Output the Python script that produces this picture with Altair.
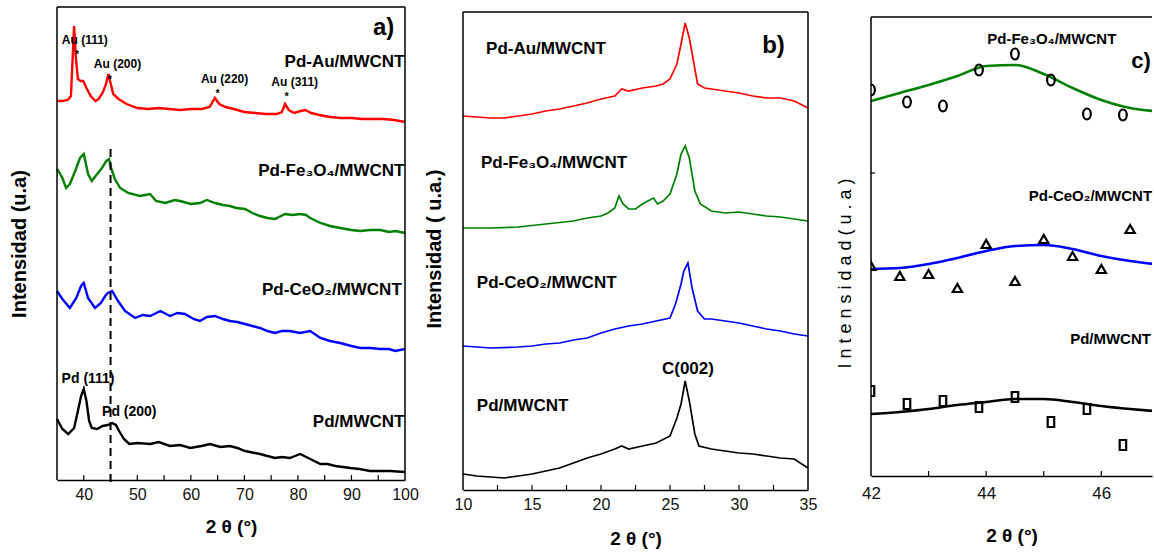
import altair as alt
import pandas as pd

FONT = "Liberation Sans, Arial, Helvetica, sans-serif"
NARROW = "Liberation Sans Narrow, Arial Narrow, Liberation Sans, sans-serif"

NAMES = ["Pd-Au/MWCNT", "Pd-Fe3O4/MWCNT", "Pd-CeO2/MWCNT", "Pd/MWCNT"]
COLORS = ["#ff0000", "#008000", "#0000ff", "#000000"]

# ---------------- panel a) : 2theta 35-100 ----------------
a_au_x = [35, 36, 37, 37.6, 37.9, 38.2, 38.5, 38.9, 39.4, 39.9, 40.5, 41.3, 42.2, 42.8, 43.5, 44.1, 44.6,
          45.0, 45.5, 46.5, 48, 50, 52, 54, 56, 58, 60, 62, 63.5, 64.5, 65.3, 66.5, 68, 70, 72, 74, 76,
          77.0, 77.6, 78.3, 79.3, 80.5, 81.4, 82.5, 84, 86, 88, 90, 92, 94, 96, 98, 100]
a_au_y = [379, 379, 380, 384, 419, 454, 424, 401, 399, 399, 392, 384, 379, 381, 387, 395, 406,
          397, 386, 381, 376, 372, 371, 372, 371, 370, 371, 371, 373, 382, 376, 373, 371, 368, 367, 366, 366,
          368, 376, 370, 367, 369, 370, 367, 365, 363, 362, 362, 361, 361, 361, 360, 358]

a_fe_x = [35, 35.5, 36, 36.7, 37.4, 38.4, 39.3, 40, 40.8, 41.5, 42.5, 43.4, 44.2, 44.7, 45.1, 45.8, 46.8,
          48.3, 50.5, 52.4, 53.5, 55.2, 57, 58, 60, 61.7, 63, 64.5, 66, 67.3, 68.5, 70.1, 71.5, 72.9, 74.3,
          75.7, 77.6, 79, 80.4, 81.5, 82.3, 84.2, 86, 87.9, 90, 91.6, 93.5, 95.4, 97, 98.2, 100]
a_fe_y = [311, 307, 302, 292, 296, 309, 322, 326, 306, 299, 306, 312, 319, 321, 312, 301, 292,
          287, 284, 286, 279, 277, 280, 279, 276, 277, 280, 277, 275, 274, 272, 271, 267, 264, 262,
          261, 266, 265, 266, 265, 262, 257, 254, 252, 250, 249, 250, 250, 248, 249, 247]

a_ce_x = [35, 36, 37.4, 38.6, 39.5, 40, 40.8, 42.1, 43.2, 44.0, 44.5, 45.3, 46.4, 47.7, 49.6, 51, 52.4,
          54.3, 56.1, 57.5, 58.9, 60.5, 61.7, 63, 64.5, 66, 67.3, 68.7, 70.1, 71.5, 72.9, 74.3, 75.7, 77,
          78.5, 80.4, 82.3, 84.2, 86, 87.9, 90, 91.6, 93.5, 95.4, 97, 98.2, 100]
a_ce_y = [189, 181, 172, 182, 194, 197, 182, 172, 177, 184, 187, 189, 179, 169, 162, 165, 164,
          169, 164, 167, 166, 161, 159, 163, 164, 161, 159, 158, 156, 154, 152, 149, 147, 149,
          149, 147, 149, 142, 139, 137, 134, 132, 132, 131, 131, 129, 131]

a_pd_x = [35, 36, 37.1, 38.2, 38.9, 39.5, 40, 40.5, 41.0, 41.5, 42.5, 43.5, 44.5, 45.3, 46.0, 46.6, 47.5,
          48.5, 50, 52.4, 54, 56.1, 58, 59.9, 62, 63.6, 65.5, 67.3, 68.7, 70.1, 72.9, 75.7, 77, 78.5,
          80.4, 82.3, 84.2, 85.5, 87, 89.8, 91.5, 93.5, 95.5, 97.2, 100]
a_pd_y = [61, 51, 46, 52, 69, 84, 91, 79, 59, 52, 51, 54, 55, 57, 55, 49, 41,
          36, 37, 36, 38, 34, 35, 32, 34, 36, 33, 34, 32, 29, 26, 22, 23, 22,
          26, 21, 16, 16, 14, 12, 11, 9, 9, 9, 8]

a_ticks = [40, 45, 50, 55, 60, 65, 70, 75, 80, 85, 90, 95]
a_labels = [40, 50, 60, 70, 80, 90, 100]

# sample names (right aligned), peak labels, markers
a_names_x = [99.9, 99.9, 99.4, 99.9]
a_names_y = [418, 309, 190, 58]
a_names_t = ["Pd-Au/MWCNT", "Pd-Fe₃O₄/MWCNT", "Pd-CeO₂/MWCNT", "Pd/MWCNT"]
a_peak_x = [40.2, 46.3, 66.3, 79.4]
a_peak_y = [440, 416, 401, 398]
a_peak_t = ["Au (111)", "Au (200)", "Au (220)", "Au (311)"]
a_star_x = [38.7, 44.9, 65.0, 77.9]
a_star_y = [425, 400, 386, 383]
a_pd_peak_x = [40.8, 48.5]
a_pd_peak_y = [101, 68]
a_pd_peak_t = ["Pd (111)", "Pd (200)"]

# ---------------- panel b) : 2theta 10-35 ----------------
b_au_x = [10, 11, 12, 13, 14, 15, 16, 17, 18, 19, 20, 21, 21.5, 22, 23, 24, 24.5, 25, 25.5, 25.8, 26.1,
          26.4, 26.7, 27.0, 27.5, 28, 29, 30, 31, 32, 33, 34, 35]
b_au_y = [374, 373, 372, 372, 374, 376, 379, 381, 384, 387, 391, 394, 401, 399, 402, 404, 406, 411, 426,
          446, 467, 452, 429, 406, 402, 401, 399, 397, 394, 392, 392, 389, 382]

b_fe_x = [10, 12, 14, 16, 18, 19, 20, 20.5, 21, 21.3, 21.6, 22, 22.5, 23, 23.4, 23.8, 24.1, 24.5, 25,
          25.5, 25.8, 26.1, 26.4, 26.8, 27.2, 28, 29, 30, 31, 32, 33, 34, 35]
b_fe_y = [262, 262, 263, 266, 269, 272, 274, 277, 282, 294, 286, 281, 281, 286, 289, 292, 286, 289, 296,
          316, 336, 344, 332, 299, 286, 279, 277, 278, 276, 274, 273, 271, 269]

b_ce_x = [10, 12, 14, 15, 16, 17, 18, 19, 20, 21, 22, 23, 24, 25, 25.4, 25.8, 26.0, 26.3, 26.6, 27.0,
          27.5, 28, 29, 30, 31, 32, 33, 34, 35]
b_ce_y = [144, 142, 143, 144, 146, 147, 150, 152, 157, 161, 164, 166, 169, 172, 186, 206, 219, 227, 202,
          179, 171, 171, 169, 167, 164, 161, 159, 156, 154]

b_pd_x = [10, 11, 12, 13, 14, 15, 16, 17, 18, 19, 20, 21, 21.5, 22, 23, 24, 25, 25.5, 25.8, 26.1, 26.4,
          26.8, 27.1, 28, 29, 30, 31, 32, 33, 34, 35]
b_pd_y = [16, 14, 13, 12, 14, 16, 19, 22, 27, 32, 36, 41, 44, 41, 44, 47, 54, 72, 86, 109, 89,
          56, 44, 41, 39, 37, 36, 34, 32, 31, 22]

b_ticks = [12.5, 15, 17.5, 20, 22.5, 25, 27.5, 30, 32.5]
b_labels = [10, 15, 20, 25, 30, 35]
b_names_x = [11.67, 11.3, 11.0, 11.0]
b_names_y = [441, 327, 207, 84]
b_names_t = ["Pd-Au/MWCNT", "Pd-Fe₃O₄/MWCNT", "Pd-CeO₂/MWCNT", "Pd/MWCNT"]

# ---------------- panel c) : 2theta 42-47 (zoom) ----------------
c_pts_x = [42, 42.625, 43.25, 43.875, 44.5, 45.125, 45.75, 46.375]
c_fe_pts = [386, 374, 370, 406, 422, 396, 362, 361]
c_pd_pts = [85, 72, 75, 69, 79, 54, 67, 31]
c_tri_x = [42, 42.5, 43, 43.5, 44, 44.5, 45, 45.5, 46, 46.5]
c_ce_pts = [210, 200, 202, 188, 232, 195, 237, 220, 207, 247]
c_fit_x = [42, 42.5, 43, 43.5, 44, 44.5, 45, 45.5, 46, 46.5, 46.9]
c_fe_fit = [375, 383, 391, 400, 410, 411, 402, 388, 376, 368, 365]
c_ce_fit = [207, 208, 212, 218, 225, 230, 231, 227, 220, 215, 212]
c_pd_fit = [62, 64, 67, 71, 74, 77, 77, 74, 70, 67, 65]
c_ticks = [43, 44, 45, 46]
c_labels = [42, 44, 46]
c_names_x = [45.14, 45.81, 46.16]
c_names_y = [437, 280, 137]
c_names_t = ["Pd-Fe₃O₄/MWCNT", "Pd-CeO₂/MWCNT", "Pd/MWCNT"]

ELLIPSE = "M0,-1A0.7,1 0 1,1 0,1A0.7,1 0 1,1 0,-1Z"
TALL_SQUARE = "M-0.65,-1H0.65V1H-0.65Z"

# ---------------- helpers ----------------
color_scale = alt.Scale(domain=NAMES, range=COLORS)


def lines_df(parts):
    frames = []
    for xs, ys, name in parts:
        frames.append(pd.DataFrame({"x": xs, "y": ys, "s": name}))
    return pd.concat(frames, ignore_index=True)


def frame_rules(W, H, off, right=True):
    base = alt.Chart(alt.Data(values=[{}]))
    out = [
        base.mark_rule(color="black", strokeWidth=1.5).encode(
            x=alt.value(0), x2=alt.value(W), y=alt.value(off)),
        base.mark_rule(color="black", strokeWidth=1.5).encode(
            x=alt.value(0), y=alt.value(off), y2=alt.value(H)),
    ]
    if right:
        out.append(base.mark_rule(color="black", strokeWidth=1.5).encode(
            x=alt.value(W), y=alt.value(off), y2=alt.value(H)))
    return out


def tick_rules(ticks, H):
    return alt.Chart(pd.DataFrame({"x": ticks})).mark_rule(color="black", strokeWidth=1.2).encode(
        x="x:Q", y=alt.value(H), y2=alt.value(H - 5))


def text_layer(xs, ys, ts, size, align="center", font=FONT, weight="bold"):
    return alt.Chart(pd.DataFrame({"x": xs, "y": ys, "t": ts})).mark_text(
        align=align, baseline="middle", font=font, fontSize=size, fontWeight=weight, color="black"
    ).encode(x="x:Q", y="y:Q", text="t:N")


def x_axis(values, font, lsize, lpad, tsize, tpad):
    return alt.Axis(values=values, format="d", ticks=False, grid=False, labelFlush=False,
                    labelFont=font, labelFontSize=lsize, labelColor="#111", labelPadding=lpad,
                    domainColor="black", domainWidth=1.5,
                    title="2 θ (°)", titleFont=font, titleFontSize=tsize, titleFontWeight="bold",
                    titleColor="black", titlePadding=tpad)


# ---------------- panel a ----------------
WA, HA = 348, 473
dfa = lines_df([(a_au_x, a_au_y, NAMES[0]), (a_fe_x, a_fe_y, NAMES[1]),
                (a_ce_x, a_ce_y, NAMES[2]), (a_pd_x, a_pd_y, NAMES[3])])
a_lines = alt.Chart(dfa).mark_line(strokeWidth=2.4).encode(
    x=alt.X("x:Q", scale=alt.Scale(domain=[35, 100], nice=False, zero=False),
            axis=x_axis(a_labels, FONT, 16, 6, 19, 15)),
    y=alt.Y("y:Q", scale=alt.Scale(domain=[0, HA], nice=False),
            axis=alt.Axis(labels=False, ticks=False, grid=False, domain=False,
                          title="Intensidad (u.a)", titleFont=FONT, titleFontSize=20,
                          titleFontWeight="bold", titleColor="black", titlePadding=28)),
    color=alt.Color("s:N", scale=color_scale, legend=None),
    detail="s:N",
)
a_dash = alt.Chart(pd.DataFrame({"x": [45], "y": [331], "y2": [-3]})).mark_rule(
    color="black", strokeWidth=2, strokeDash=[8, 5]).encode(x="x:Q", y="y:Q", y2="y2:Q")
panel_a = alt.layer(
    a_lines, a_dash, tick_rules(a_ticks, HA),
    text_layer(a_names_x, a_names_y, a_names_t, 17, align="right"),
    text_layer(a_peak_x, a_peak_y, a_peak_t, 12),
    text_layer(a_star_x, a_star_y, ["*"] * 4, 11),
    text_layer(a_pd_peak_x, a_pd_peak_y, a_pd_peak_t, 14),
    text_layer([96], [452], ["a)"], 24),
    *frame_rules(WA, HA, 0),
).properties(width=WA, height=HA)

# ---------------- panel b ----------------
WB, HB = 345, 483
dfb = lines_df([(b_au_x, b_au_y, NAMES[0]), (b_fe_x, b_fe_y, NAMES[1]),
                (b_ce_x, b_ce_y, NAMES[2]), (b_pd_x, b_pd_y, NAMES[3])])
b_lines = alt.Chart(dfb).mark_line(strokeWidth=1.7).encode(
    x=alt.X("x:Q", scale=alt.Scale(domain=[10, 35], nice=False, zero=False),
            axis=x_axis(b_labels, FONT, 16, 6, 19, 17)),
    y=alt.Y("y:Q", scale=alt.Scale(domain=[0, HB], nice=False),
            axis=alt.Axis(labels=False, ticks=False, grid=False, domain=False,
                          title="Intensidad ( u.a.)", titleFont=FONT, titleFontSize=20,
                          titleFontWeight="bold", titleColor="black", titlePadding=19)),
    color=alt.Color("s:N", scale=color_scale, legend=None),
    detail="s:N",
)
panel_b = alt.layer(
    b_lines, tick_rules(b_ticks, HB),
    text_layer(b_names_x, b_names_y, b_names_t, 17, align="left"),
    text_layer([26.3], [121], ["C(002)"], 17),
    text_layer([32.5], [444], ["b)"], 24),
    *frame_rules(WB, HB, 5),
).properties(width=WB, height=HB)

# ---------------- panel c ----------------
WC, HC = 281, 469
dfc = lines_df([(c_fit_x, c_fe_fit, NAMES[1]), (c_fit_x, c_ce_fit, NAMES[2]), (c_fit_x, c_pd_fit, NAMES[3])])
c_lines = alt.Chart(dfc).mark_line(strokeWidth=2.6, interpolate="monotone", clip=True).encode(
    x=alt.X("x:Q", scale=alt.Scale(domain=[42, 46.88], nice=False, zero=False),
            axis=x_axis(c_labels, NARROW, 17, 9, 19, 25)),
    y=alt.Y("y:Q", scale=alt.Scale(domain=[0, HC], nice=False),
            axis=alt.Axis(labels=False, ticks=False, grid=False, domain=False,
                          title="I n t e n s i d a d   ( u . a )", titleFont=NARROW, titleFontSize=18,
                          titleFontWeight="normal", titleColor="black", titleX=-17, titleY=266)),
    color=alt.Color("s:N", scale=color_scale, legend=None),
    detail="s:N",
)
c_circ = alt.Chart(pd.DataFrame({"x": c_pts_x, "y": c_fe_pts})).mark_point(
    shape=ELLIPSE, filled=False, color="black", opacity=1, size=121, strokeWidth=2.2, clip=True).encode(
    x="x:Q", y="y:Q")
c_tri = alt.Chart(pd.DataFrame({"x": c_tri_x, "y": c_ce_pts})).mark_point(
    shape="triangle-up", filled=False, color="black", opacity=1, size=85, strokeWidth=2.2, clip=True).encode(
    x="x:Q", y="y:Q")
c_sq = alt.Chart(pd.DataFrame({"x": c_pts_x, "y": c_pd_pts})).mark_point(
    shape=TALL_SQUARE, filled=False, color="black", opacity=1, size=100, strokeWidth=2.2, clip=True).encode(
    x="x:Q", y="y:Q")
c_ytick = alt.Chart(alt.Data(values=[{}])).mark_rule(color="black", strokeWidth=1.2).encode(
    x=alt.value(0), x2=alt.value(4), y=alt.value(166))
panel_c = alt.layer(
    c_lines, c_circ, c_tri, c_sq, tick_rules(c_ticks, HC), c_ytick,
    text_layer(c_names_x, c_names_y, c_names_t, 15, font=NARROW),
    text_layer([46.69], [415], ["c)"], 22, font=NARROW),
    *frame_rules(WC, HC, 10, right=False),
).properties(width=WC, height=HC)

chart = alt.hconcat(
    alt.hconcat(panel_a, panel_b, spacing=4),
    panel_c, spacing=17,
).properties(padding={"left": 8, "top": 5, "right": 0, "bottom": 0}).configure_view(
    stroke="transparent")

chart.save("out.html", embed_options={"renderer": "svg", "actions": False})
